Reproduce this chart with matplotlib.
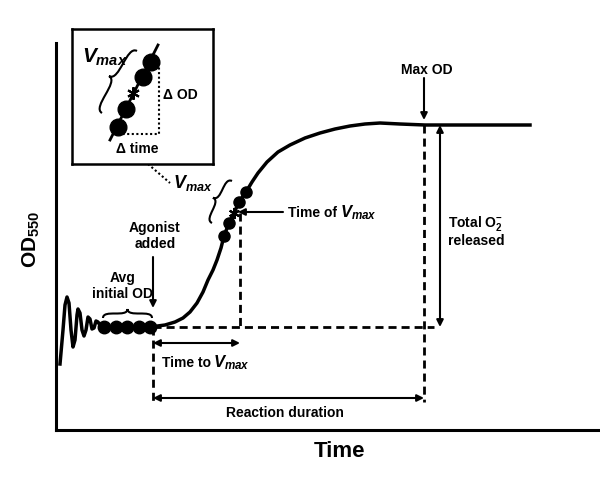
import numpy as np
import matplotlib.pyplot as plt
from matplotlib.path import Path
from matplotlib.patches import PathPatch

plt.rcParams["font.family"] = ["Liberation Sans", "DejaVu Sans"]
plt.rcParams["font.weight"] = "bold"
plt.rcParams["mathtext.fontset"] = "custom"
plt.rcParams["mathtext.it"] = "Liberation Sans:italic:bold"
plt.rcParams["mathtext.rm"] = "Liberation Sans:bold"
plt.rcParams["mathtext.bf"] = "Liberation Sans:bold"

# schematic OD trace (time, OD in arbitrary units)
time = [4, 7, 9, 11, 13, 15, 17, 19, 21, 22, 24, 26, 28, 30, 32, 34, 36, 38,
        40, 42, 45, 94, 109, 119, 127, 134, 141, 147, 152, 157, 161, 165, 168,
        173, 178, 183, 190, 196, 202, 211, 222, 234, 249, 264, 279, 294, 309,
        324, 344, 369, 474]
od = [66, 100, 125, 133, 127, 100, 83, 90, 115, 121, 117, 100, 94, 100, 113,
      111, 101, 102, 109, 108, 103, 103, 105, 108, 112, 118, 127, 138, 150,
      160, 170, 182, 194, 207, 217, 228, 238, 248, 257, 268, 278, 285, 292,
      297, 301, 304, 306, 307, 306, 305, 305]

# readings averaged for the initial OD
init_t = [48, 59.5, 71, 82.5, 94]
init_od = [103, 103, 103, 103, 103]

# readings around Vmax
vmax_t = [168, 173, 183, 190]
vmax_od = [194, 207, 228, 238]
vmax_point = (178, 217)

t_agonist = 97
t_vmax = 184
t_maxod = 368
od_base = 103
od_max = 305

# inset (zoomed slope)
in_line_u = [38, 86]
in_line_v = [24, 119]
in_dot_u = [46, 54, 71, 79]
in_dot_v = [37, 55, 87, 102]
in_star = (61, 71)


def brace(ax, p1, p2, w, lw=1.5):
    p1 = np.array(p1, float)
    p2 = np.array(p2, float)
    L = np.linalg.norm(p2 - p1)
    d = (p2 - p1) / L
    n = np.array([-d[1], d[0]])
    s1 = p1 + d * L / 4 + n * w / 2
    tip = p1 + d * L / 2 + n * w
    s2 = p1 + d * 3 * L / 4 + n * w / 2
    verts = [p1, p1 + n * w / 2, s1 - d * L / 8, s1,
             s1 + d * L / 8, tip - n * w / 2, tip,
             tip - n * w / 2, s2 - d * L / 8, s2,
             s2 + d * L / 8, p2 + n * w / 2, p2]
    codes = [Path.MOVETO] + [Path.CURVE4] * 12
    ax.add_patch(PathPatch(Path(verts, codes), fill=False, lw=lw,
                           color="k", clip_on=False))


def arrow(ax, start, end, both=False):
    ax.annotate("", xy=end, xytext=start,
                arrowprops=dict(arrowstyle="<|-|>" if both else "-|>",
                                color="k", lw=1.5, mutation_scale=10,
                                shrinkA=0, shrinkB=0))


fig = plt.figure(figsize=(6, 4.82), dpi=100)
ax = fig.add_axes([56 / 600, 52 / 482, 544 / 600, 387 / 482])
ax.set_xlim(0, 544)
ax.set_ylim(0, 387)
for s in ["top", "right"]:
    ax.spines[s].set_visible(False)
for s in ["left", "bottom"]:
    ax.spines[s].set_linewidth(2.2)
ax.set_xticks([])
ax.set_yticks([])

ax.plot(time, od, color="k", lw=2.5, solid_joinstyle="round")
ax.plot(init_t, init_od, "o", color="k", ms=9)
ax.plot(vmax_t, vmax_od, "o", color="k", ms=8)
ax.plot(*vmax_point, marker=(6, 2, 0), color="k", ms=8, mew=1.5)

dash = dict(color="k", lw=2, linestyle=(0, (2.9, 1.8)))
ax.plot([t_agonist, 378], [od_base, od_base], **dash)
ax.plot([t_agonist, t_agonist], [od_base, 28], **dash)
ax.plot([t_vmax, t_vmax], [vmax_point[1], od_base], **dash)
ax.plot([t_maxod, t_maxod], [od_max, 28], **dash)

arrow(ax, (t_agonist, 87), (t_vmax, 87), both=True)
arrow(ax, (t_agonist, 32), (t_maxod, 32), both=True)
arrow(ax, (384, od_max), (384, od_base), both=True)
arrow(ax, (t_maxod, 352), (t_maxod, 310))
arrow(ax, (t_agonist, 173), (t_agonist, 122))
arrow(ax, (227, 218), (182, 218))

fs = 10
ax.text(371, 360, "Max OD", ha="center", va="center", fontsize=fs)
ax.text(99, 194, "Agonist\nadded", ha="center", va="center", fontsize=fs,
        linespacing=1.2)
ax.text(67, 144, "Avg\ninitial OD", ha="center", va="center", fontsize=fs,
        linespacing=1.2)
brace(ax, (47, 112), (96, 112), 9)
ax.text(106, 63, "Time to", ha="left", va="baseline", fontsize=fs)
ax.text(157, 63, "$V_{max}$", ha="left", va="baseline", fontsize=12)
ax.text(229, 17, "Reaction duration", ha="center", va="center", fontsize=fs)
ax.text(392, 203, "Total O$_2^{-}$", ha="left", va="baseline", fontsize=fs)
ax.text(392, 185, "released", ha="left", va="baseline", fontsize=fs)
ax.text(232, 213, "Time of", ha="left", va="baseline", fontsize=fs)
ax.text(284, 213, "$V_{max}$", ha="left", va="baseline", fontsize=12)

ax.text(117, 242, "$V_{max}$", ha="left", va="baseline", fontsize=13)
brace(ax, (156, 207), (176, 249), 10)
ax.plot([92, 114], [266, 247], color="k", lw=1.5, linestyle=(0, (1, 1.2)))

ax.text(-25, 162, "OD$_{550}$", rotation=90, ha="center", va="bottom",
        fontsize=15, clip_on=False)
ax.text(284, -27, "Time", ha="center", va="baseline", fontsize=16,
        clip_on=False)

# inset
ins = fig.add_axes([72 / 600, (482 - 164) / 482, 141 / 600, 135 / 482])
ins.set_xlim(0, 141)
ins.set_ylim(0, 135)
ins.set_xticks([])
ins.set_yticks([])
for s in ins.spines.values():
    s.set_linewidth(1.8)
ins.plot(in_line_u, in_line_v, color="k", lw=2)
ins.plot(in_dot_u, in_dot_v, "o", color="k", ms=12)
ins.plot(*in_star, marker=(6, 2, 0), color="k", ms=9, mew=1.5)
ins.plot([in_dot_u[0], 87, 87], [30, 30, in_dot_v[-1]], color="k", lw=1.5,
         linestyle=(0, (1, 1.2)))
ins.text(91, 69, "Δ OD", ha="left", va="center", fontsize=fs)
ins.text(65, 15, "Δ time", ha="center", va="center", fontsize=fs)
ins.text(10, 101, "$V_{max}$", ha="left", va="baseline", fontsize=15)
brace(ins, (30, 51), (65, 113), 12)

fig.savefig("out.png", dpi=100)
